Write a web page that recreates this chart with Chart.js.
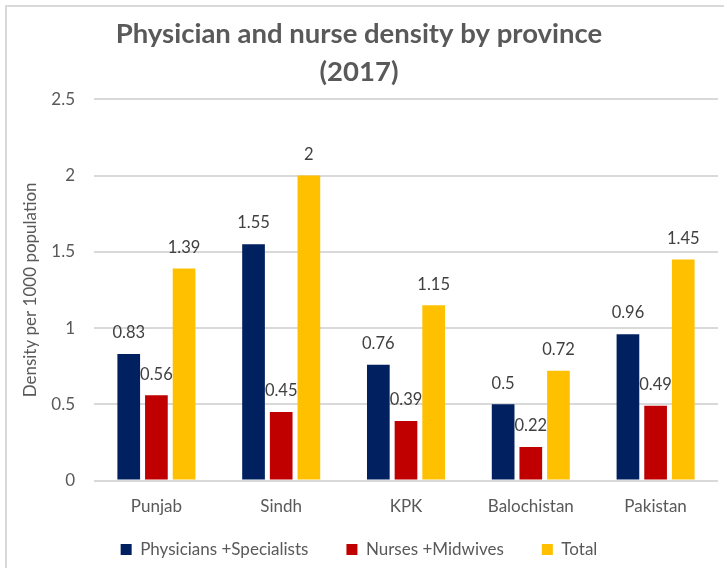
<!DOCTYPE html>
<html>
<head>
<meta charset="utf-8">
<script src="https://cdn.jsdelivr.net/npm/chart.js@4.4.1/dist/chart.umd.min.js"></script>
<style>
	html, body { margin: 0; padding: 0; background: #fff; overflow: hidden; }
	#frame { position: absolute; left: 5px; top: 5px; width: 740px; height: 580px; border: 2px solid #d9d9d9; box-sizing: border-box; }
	#wrap { position: absolute; left: 0; top: 0; width: 724px; height: 568px; }
</style>
</head>
<body>
<div id="frame"></div>
<div id="wrap"><canvas id="densityChart" width="724" height="568"></canvas></div>
<script>
const provinces = ['Punjab', 'Sindh', 'KPK', 'Balochistan', 'Pakistan'];
const physicians = [0.83, 1.55, 0.76, 0.5, 0.96];
const nurses = [0.56, 0.45, 0.39, 0.22, 0.49];
const totals = [1.39, 2, 1.15, 0.72, 1.45];
const yTicks = [0, 0.5, 1, 1.5, 2, 2.5];

const FONT = "Lato, 'Open Sans', sans-serif";
const GREY = '#595959';

// simple value labels above each bar
const barLabels = {
	id: 'barLabels',
	afterDatasetsDraw(chart) {
		const ctx = chart.ctx;
		ctx.save();
		ctx.font = '16.5px ' + FONT;
		ctx.fillStyle = '#404040';
		ctx.textAlign = 'center';
		ctx.textBaseline = 'middle';
		chart.data.datasets.forEach((ds, i) => {
			chart.getDatasetMeta(i).data.forEach((bar, j) => {
				ctx.fillText(String(ds.data[j]), bar.x, bar.y - 21);
			});
		});
		ctx.restore();
	}
};

// legend padding is big for the horizontal gaps, pull it back up a bit
const legendNudge = {
	id: 'legendNudge',
	afterLayout(chart) {
		const lg = chart.legend;
		if (lg) {
			lg.top -= 22;
			lg.bottom -= 22;
		}
	}
};

const canvas = document.getElementById('densityChart');
new Chart(canvas.getContext('2d'), {
	type: 'bar',
	data: {
		labels: provinces,
		datasets: [
			{ label: 'Physicians +Specialists', data: physicians, backgroundColor: '#002060' },
			{ label: 'Nurses +Midwives', data: nurses, backgroundColor: '#c00000' },
			{ label: 'Total', data: totals, backgroundColor: '#ffc000' },
		],
	},
	options: {
		responsive: false,
		animation: false,
		categoryPercentage: 0.665,
		barPercentage: 0.82,
		layout: { padding: { left: 0, right: 6, top: 12, bottom: -22 } },
		plugins: {
			title: {
				display: true,
				text: ['Physician and nurse density by province', '(2017)'],
				color: GREY,
				font: { family: FONT, size: 27.5, weight: 'bold', lineHeight: 1.35 },
				padding: { top: 4, bottom: 9 },
			},
			legend: {
				position: 'bottom',
				labels: {
					color: GREY,
					font: { family: FONT, size: 17 },
					boxWidth: 11,
					boxHeight: 11,
					padding: 38,
				},
			},
			tooltip: { enabled: false },
		},
		scales: {
			x: {
				grid: { display: false },
				border: { display: false },
				ticks: { color: GREY, font: { family: FONT, size: 17 }, padding: 8 },
			},
			y: {
				min: 0,
				max: 2.5,
				afterBuildTicks(scale) {
					scale.ticks = yTicks.map((v) => ({ value: v }));
				},
				afterFit(scale) {
					scale.width = 94;
				},
				grid: { color: '#d9d9d9', lineWidth: 2, drawTicks: false },
				border: { display: false },
				ticks: {
					color: GREY,
					font: { family: FONT, size: 17 },
					padding: 19,
					callback: (v) => String(v),
				},
				title: {
					display: true,
					text: 'Density per 1000 population',
					color: GREY,
					font: { family: FONT, size: 17 },
					padding: { top: 20, bottom: 0 },
				},
			},
		},
	},
	plugins: [barLabels, legendNudge],
});
</script>
</body>
</html>
